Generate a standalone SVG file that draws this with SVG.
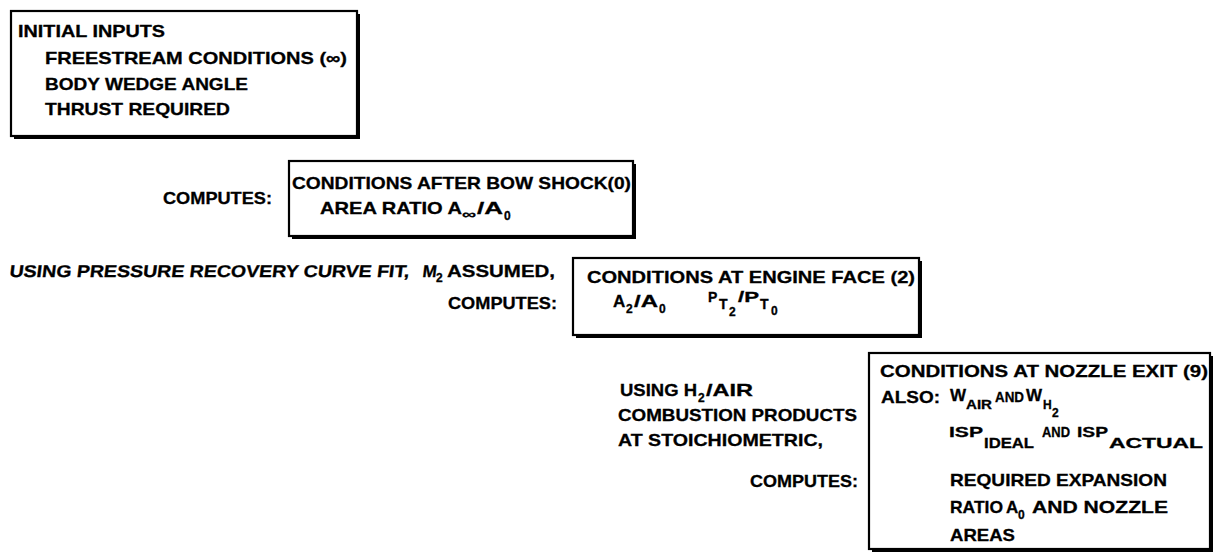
<svg xmlns="http://www.w3.org/2000/svg" width="1217" height="556" viewBox="0 0 1217 556">
<style>
text{font-family:"Liberation Sans",Arial,sans-serif;font-weight:bold;font-size:17px;fill:#000;stroke:#000;stroke-width:0.3}
.s{font-size:12px}
.m{font-size:14px}
.box{fill:#fff;stroke:#000;stroke-width:2.2}
.sh{fill:none;stroke:#000;stroke-width:3}
</style>
<rect width="1217" height="556" fill="#fff"/>
<g id="initial-inputs">
<rect class="box" x="11" y="11" width="346" height="125"/>
<path class="sh" d="M358.5 14 V137.5 H14"/>
<text x="18" y="37" textLength="147" lengthAdjust="spacingAndGlyphs">INITIAL INPUTS</text>
<text x="45" y="64" textLength="302" lengthAdjust="spacingAndGlyphs">FREESTREAM CONDITIONS (∞)</text>
<text x="45" y="90" textLength="203" lengthAdjust="spacingAndGlyphs">BODY WEDGE ANGLE</text>
<text x="45" y="115" textLength="185" lengthAdjust="spacingAndGlyphs">THRUST REQUIRED</text>
</g>
<g id="step-bow-shock">
<text x="163" y="204" textLength="109" lengthAdjust="spacingAndGlyphs">COMPUTES:</text>
<rect class="box" x="289" y="161" width="344" height="75"/>
<path class="sh" d="M634.5 164 V237.5 H292"/>
<text x="292" y="189" textLength="339" lengthAdjust="spacingAndGlyphs">CONDITIONS AFTER BOW SHOCK(0)</text>
<text x="320" y="214" textLength="142" lengthAdjust="spacingAndGlyphs">AREA RATIO A</text>
<text class="m" x="462" y="219" textLength="14" lengthAdjust="spacingAndGlyphs">∞</text>
<text x="477" y="214" textLength="26" lengthAdjust="spacingAndGlyphs">/A</text>
<text class="s" x="504" y="220">0</text>
</g>
<g id="step-engine-face">
<g transform="translate(34,0) skewX(-7)">
<text x="9" y="277" textLength="400" lengthAdjust="spacingAndGlyphs">USING PRESSURE  RECOVERY CURVE FIT,</text>
<text x="422" y="277">M</text>
</g>
<text class="s" x="436" y="282">2</text>
<text x="447" y="277" textLength="108" lengthAdjust="spacingAndGlyphs">ASSUMED,</text>
<text x="448" y="309" textLength="109" lengthAdjust="spacingAndGlyphs">COMPUTES:</text>
<rect class="box" x="573" y="258" width="346" height="77"/>
<path class="sh" d="M920.5 261 V336.5 H576"/>
<text x="587" y="283" textLength="328" lengthAdjust="spacingAndGlyphs">CONDITIONS AT ENGINE FACE (2)</text>
<text x="613" y="307">A</text>
<text class="s" x="626" y="313">2</text>
<text x="634" y="307" textLength="24" lengthAdjust="spacingAndGlyphs">/A</text>
<text class="s" x="659" y="313">0</text>
<text class="m" x="708" y="302">P</text>
<text class="m" x="719" y="309">T</text>
<text class="s" x="729" y="316">2</text>
<text class="m" x="738" y="302" textLength="21" lengthAdjust="spacingAndGlyphs">/P</text>
<text class="m" x="760" y="309">T</text>
<text class="s" x="771" y="315">0</text>
</g>
<g id="step-nozzle-exit">
<text x="620" y="396" textLength="77" lengthAdjust="spacingAndGlyphs">USING H</text>
<text class="s" x="698" y="402">2</text>
<text x="706" y="396" textLength="47" lengthAdjust="spacingAndGlyphs">/AIR</text>
<text x="618" y="421" textLength="239" lengthAdjust="spacingAndGlyphs">COMBUSTION PRODUCTS</text>
<text x="618" y="446" textLength="205" lengthAdjust="spacingAndGlyphs">AT STOICHIOMETRIC,</text>
<text x="750" y="487" textLength="108" lengthAdjust="spacingAndGlyphs">COMPUTES:</text>
<rect class="box" x="869" y="353" width="341" height="196"/>
<path class="sh" d="M1211.5 356 V550.5 H872"/>
<text x="880" y="377" textLength="328" lengthAdjust="spacingAndGlyphs">CONDITIONS AT NOZZLE EXIT (9)</text>
<text x="881" y="403" textLength="59" lengthAdjust="spacingAndGlyphs">ALSO:</text>
<text x="950" y="401">W</text>
<text class="s" x="966" y="409" textLength="26" lengthAdjust="spacingAndGlyphs">AIR</text>
<text class="m" x="995" y="402" textLength="29" lengthAdjust="spacingAndGlyphs">AND</text>
<text x="1026" y="401">W</text>
<text class="s" x="1043" y="409">H</text>
<text class="s" x="1052" y="417">2</text>
<text class="m" x="949" y="437" textLength="34" lengthAdjust="spacingAndGlyphs">ISP</text>
<text class="m" x="984" y="448" textLength="50" lengthAdjust="spacingAndGlyphs">IDEAL</text>
<text class="m" x="1042" y="437" textLength="28" lengthAdjust="spacingAndGlyphs">AND</text>
<text class="m" x="1077" y="437" textLength="31" lengthAdjust="spacingAndGlyphs">ISP</text>
<text class="m" x="1109" y="448" textLength="94" lengthAdjust="spacingAndGlyphs">ACTUAL</text>
<text x="950" y="486" textLength="217" lengthAdjust="spacingAndGlyphs">REQUIRED EXPANSION</text>
<text x="950" y="513" textLength="53" lengthAdjust="spacingAndGlyphs">RATIO</text>
<text x="1006" y="513">A</text>
<text class="s" x="1018" y="519">0</text>
<text x="1032" y="513" textLength="136" lengthAdjust="spacingAndGlyphs">AND NOZZLE</text>
<text x="950" y="541" textLength="65" lengthAdjust="spacingAndGlyphs">AREAS</text>
</g>
<g id="connectors"></g>
</svg>
